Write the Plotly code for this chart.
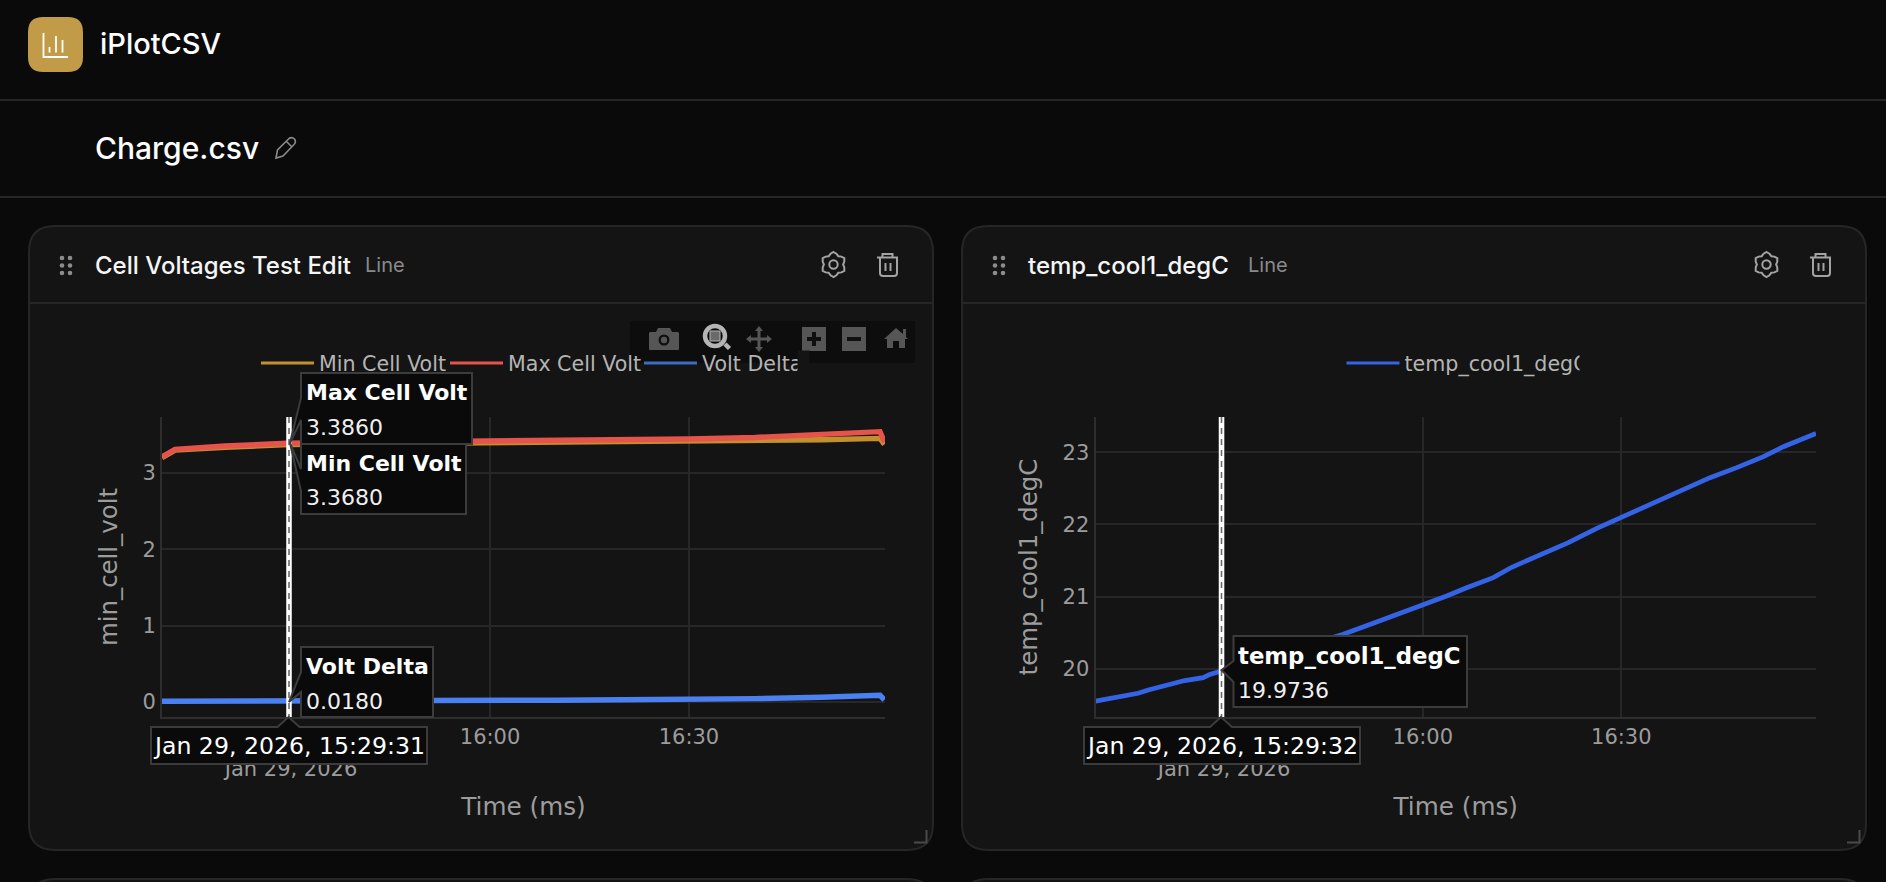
"""Recreate the iPlotCSV dashboard screenshot (two line-chart cards)."""

import math
import re

import plotly.graph_objects as go

W, H = 1886, 882

# ── Data ────────────────────────────────────────────────────
VOLT_TIME = [
    "2026-01-29 15:10:30", "2026-01-29 15:12:28", "2026-01-29 15:20:00", "2026-01-29 15:29:31",
    "2026-01-29 15:40:00", "2026-01-29 15:50:00", "2026-01-29 16:00:00", "2026-01-29 16:10:00",
    "2026-01-29 16:20:00", "2026-01-29 16:30:00", "2026-01-29 16:40:00", "2026-01-29 16:50:00",
    "2026-01-29 16:58:50", "2026-01-29 16:59:30",
]
MIN_CELL_VOLT = [3.197, 3.296, 3.335, 3.368, 3.380, 3.388, 3.392, 3.398, 3.402, 3.408, 3.418, 3.432, 3.450, 3.372]
MAX_CELL_VOLT = [3.207, 3.306, 3.350, 3.386, 3.398, 3.405, 3.412, 3.422, 3.432, 3.443, 3.462, 3.495, 3.538, 3.400]
VOLT_DELTA = [0.010, 0.010, 0.015, 0.018, 0.018, 0.017, 0.020, 0.024, 0.030, 0.035, 0.044, 0.063, 0.088, 0.028]

TEMP_TIME = [
    "2026-01-29 15:10:31", "2026-01-29 15:13:56", "2026-01-29 15:16:58", "2026-01-29 15:18:30",
    "2026-01-29 15:21:30", "2026-01-29 15:24:00", "2026-01-29 15:26:48", "2026-01-29 15:27:48",
    "2026-01-29 15:29:32", "2026-01-29 15:38:00", "2026-01-29 15:47:58", "2026-01-29 15:52:30",
    "2026-01-29 15:58:03", "2026-01-29 16:00:03", "2026-01-29 16:03:36", "2026-01-29 16:06:37",
    "2026-01-29 16:10:39", "2026-01-29 16:13:26", "2026-01-29 16:17:12", "2026-01-29 16:22:00",
    "2026-01-29 16:26:18", "2026-01-29 16:30:04", "2026-01-29 16:34:20", "2026-01-29 16:38:23",
    "2026-01-29 16:43:25", "2026-01-29 16:47:27", "2026-01-29 16:51:30", "2026-01-29 16:54:30",
    "2026-01-29 16:59:26",
]
TEMP_COOL1 = [
    19.555, 19.61, 19.665, 19.711, 19.776, 19.84, 19.881, 19.925, 19.974, 20.20, 20.481, 20.633, 20.817,
    20.90, 21.011, 21.125, 21.265, 21.408, 21.555, 21.748, 21.947, 22.10, 22.27, 22.432, 22.647, 22.786,
    22.938, 23.076, 23.26,
]

COLORS = ["#c48f2f", "#e5534b", "#4a80f2", "#3463e5"]
LEGEND_BLUE = "#3a6cc4"
BG = "#0a0a0a"
CARD = "#141414"
EDGE = "#262626"
GRID = "#272727"
MUTED = "#9c9c9c"
TIP_EDGE = "#3c3c3c"
PLOT_FONT = "DejaVu Sans"
UI_FONT = "Inter"


def fx(x):
    return x / W


def fy(y):
    return 1 - y / H


def scaled(path):
    # pixel path -> paper path, numbers come in x,y pairs
    nums = iter(range(10000))

    def conv(m):
        v = float(m.group())
        return f"{fx(v):.5f}" if next(nums) % 2 == 0 else f"{fy(v):.5f}"

    return re.sub(r"-?\d+\.?\d*", conv, path)


def round_rect(x0, y0, x1, y1, r):
    return (
        f"M{x0 + r},{y0} L{x1 - r},{y0} Q{x1},{y0} {x1},{y0 + r} L{x1},{y1 - r} Q{x1},{y1} {x1 - r},{y1} "
        f"L{x0 + r},{y1} Q{x0},{y1} {x0},{y1 - r} L{x0},{y0 + r} Q{x0},{y0} {x0 + r},{y0} Z"
    )


shapes = []
annotations = []


def path(d, fill=None, line=None, width=0, layer="above"):
    shapes.append(dict(
        type="path", xref="paper", yref="paper", path=scaled(d), layer=layer,
        fillcolor=fill or "rgba(0,0,0,0)",
        line=dict(color=line or "rgba(0,0,0,0)", width=width),
    ))


def circle(cx, cy, r, fill=None, line=None, width=0):
    shapes.append(dict(
        type="circle", xref="paper", yref="paper", x0=fx(cx - r), x1=fx(cx + r), y0=fy(cy + r), y1=fy(cy - r),
        fillcolor=fill or "rgba(0,0,0,0)", line=dict(color=line or "rgba(0,0,0,0)", width=width),
    ))


def text(x, y, s, size, color="#ffffff", font=UI_FONT, weight=400, anchor="left"):
    # annotations carry about 2px of padding on the left
    annotations.append(dict(
        x=fx(x - 2 if anchor == "left" else x), y=fy(y), xref="paper", yref="paper", text=s, showarrow=False,
        xanchor=anchor, yanchor="middle", font=dict(family=font, size=size, color=color, weight=weight),
    ))


def cover(x0, y0, x1, y1):
    # hides the clipped end of a legend label
    annotations.append(dict(
        x=fx(x0), y=fy(y0), xref="paper", yref="paper", text=" ", showarrow=False, xanchor="left", yanchor="top",
        width=x1 - x0, height=y1 - y0, bgcolor=CARD, borderpad=0, font=dict(size=10),
    ))


def tooltip(box, tip, title, value, title_size=22):
    # title / value are (label, text y, y where the pointer leaves the box)
    x0, y0, x1, y1 = box
    px_, py_ = tip
    path(f"M{x0},{y0} L{x1},{y0} L{x1},{y1} L{x0},{y1} L{x0},{value[2]} L{px_},{py_} L{x0},{title[2]} Z", BG, TIP_EDGE, 2)
    text(x0 + 4.5, title[1], title[0], title_size, font=PLOT_FONT, weight=700)
    text(x0 + 4.5, value[1], value[0], 22, "#f0f0f0", font=PLOT_FONT)


def date_tip(x0, x1, cx, label):
    y0, y1 = 727, 764
    path(f"M{x0},{y0} L{cx - 11},{y0} L{cx},717 L{cx + 11},{y0} L{x1},{y0} L{x1},{y1} L{x0},{y1} Z", BG, TIP_EDGE, 2)
    text((x0 + x1) / 2, 746, label, 23.6, font=PLOT_FONT, anchor="center")


def crosshair(x):
    path(f"M{x},417 L{x},717", line="#ffffff", width=5.5)
    shapes.append(dict(
        type="line", xref="paper", yref="paper", x0=fx(x), x1=fx(x), y0=fy(417), y1=fy(717),
        line=dict(color="#6a6a6a", width=1.6, dash="6px,5px"),
    ))


def date_header(cx):
    # second tick line sits under the date tooltip, so it has to go in the shape layer
    shapes.append(dict(
        type="rect", xref="paper", yref="paper", x0=fx(cx - 90), x1=fx(cx + 90), y0=fy(779), y1=fy(755),
        line=dict(width=0), fillcolor="rgba(0,0,0,0)",
        label=dict(text="Jan 29, 2026", font=dict(family=PLOT_FONT, size=21, color=MUTED), textposition="middle center"),
    ))


def card(x0, title, title_x_end):
    x1 = x0 + 904
    path(round_rect(x0, 226, x1, 850, 26), CARD, EDGE, 2, layer="below")
    path(f"M{x0},303 L{x1},303", line=EDGE, width=2, layer="below")
    # next row of cards, only the top edge is on screen
    path(round_rect(x0, 879, x1, 1000, 26), CARD, EDGE, 2, layer="below")
    dx = x0 - 29
    for cx in (62, 70):
        for cy in (258, 265.5, 273):
            circle(cx + dx, cy, 2.3, fill="#8c8c8c")
    text(95 + dx, 265, title, 24, "#f5f5f5", weight=500)
    text(title_x_end + 15, 265.5, "Line", 20, "#8a8a8a")
    # gear
    gcx, gcy = 833.5 + dx, 264.5
    pts = []
    for i in range(24):
        ang = math.radians(i * 15 - 90)
        rad = 12.5 if i % 4 == 0 else (11.2 if i % 4 in (1, 3) else 9.6)
        pts.append(f"{gcx + rad * math.cos(ang):.1f},{gcy + rad * math.sin(ang):.1f}")
    path("M" + " L".join(pts) + " Z", line="#a3a3a3", width=2)
    circle(gcx, gcy, 4.2, line="#a3a3a3", width=2)
    # trash
    t = dx
    path(f"M{877 + t},257.5 L{898 + t},257.5", line="#a3a3a3", width=2)
    path(f"M{882.5 + t},257 L{882.5 + t},254 L{892.5 + t},254 L{892.5 + t},257", line="#a3a3a3", width=2)
    path(f"M{880 + t},258 L{880 + t},273 Q{880 + t},276 {883 + t},276 L{894 + t},276 Q{897 + t},276 {897 + t},273 L{897 + t},258",
         line="#a3a3a3", width=2)
    path(f"M{885.5 + t},263 L{885.5 + t},271", line="#a3a3a3", width=2)
    path(f"M{890.5 + t},263 L{890.5 + t},271", line="#a3a3a3", width=2)
    # resize handle
    path(f"M{914 + t},842.5 L{926.5 + t},842.5 L{926.5 + t},830", line="#4a4a4a", width=2)


# ── Page chrome ─────────────────────────────────────────────
path(f"M0,100 L{W},100", line=EDGE, width=2, layer="below")
path(f"M0,197 L{W},197", line=EDGE, width=2, layer="below")
path(round_rect(28, 17, 83, 72, 15), "#c19b47")
path("M43.5,33 L43.5,57 L68,57", line="#ffffff", width=1.8)
path("M49.5,47 L49.5,52.5", line="#ffffff", width=1.8)
path("M56,36 L56,52.5", line="#ffffff", width=1.8)
path("M62.5,40 L62.5,52.5", line="#ffffff", width=1.8)
text(100, 44, "iPlotCSV", 29, weight=500)
text(95, 148, "Charge.csv", 30, weight=500)
path("M276,158 L277.5,150 L289,138.5 Q292,136.5 294.5,139 Q296.5,142 294,144.5 L283,156 Z M286,141 L292,147",
     line="#8a8a8a", width=1.6)

card(29, "Cell Voltages Test Edit", 350)
card(962, "temp_cool1_degC", 1233)

# modebar (drawn, since it only shows on hover)
path("M630,321 L915,321 L915,363 L630,363 Z", "rgba(8,8,8,0.55)")
ICON = "#565656"
path("M650,332 L656,332 L658,328 L670,328 L672,332 L678,332 Q679,332 679,334 L679,349 Q679,350 678,350 L650,350 Q649,350 649,349 L649,334 Q649,332 650,332 Z", ICON)
circle(664, 340, 5.5, fill="#0f0f0f")
circle(664, 340, 3.2, fill=ICON)
path("M725,344 L729.5,348.5", line="#b5b5b5", width=4.5)
circle(715, 336, 10, line="#b5b5b5", width=4.5)
path("M710,331 L720,331 L720,341 L710,341 Z", "#6a6a6a", "#b5b5b5", 1)
path("M759,326 L763,331 L760.5,331 L760.5,337.5 L767,337.5 L767,335 L772,339 L767,343 L767,340.5 L760.5,340.5 L760.5,347 L763,347 L759,352 L755,347 L757.5,347 L757.5,340.5 L751,340.5 L751,343 L746,339 L751,335 L751,337.5 L757.5,337.5 L757.5,331 L755,331 Z", ICON)
path("M802,327 L826,327 L826,351 L802,351 Z", ICON)
path("M812,332 L816,332 L816,337 L821,337 L821,341 L816,341 L816,346 L812,346 L812,341 L807,341 L807,337 L812,337 Z", "#0f0f0f")
path("M842,327 L866,327 L866,351 L842,351 Z", ICON)
path("M847,337 L861,337 L861,341 L847,341 Z", "#0f0f0f")
path("M884,339 L896,328 L903,334 L903,329 L906,329 L906,337 L908,339 L905,339 L905,348 L899,348 L899,341 L893,341 L893,348 L887,348 L887,339 Z", ICON)

# hover readouts, in the order the page stacks them
date_header(291)
crosshair(289)
date_tip(151, 427, 288.5, "Jan 29, 2026, 15:29:31")
tooltip((301, 444, 466, 514), (290, 443), ("Min Cell Volt", 464, 469), ("3.3680", 498, 491))
tooltip((301, 373, 472, 444), (290, 443), ("Max Cell Volt", 393, 398), ("3.3860", 427, 420))
tooltip((301, 647, 433, 717), (289, 702), ("Volt Delta", 666, 672), ("0.0180", 701, 692))

date_header(1224)
crosshair(1221.5)
date_tip(1084, 1360, 1221, "Jan 29, 2026, 15:29:32")
tooltip((1233.5, 636, 1467, 707), (1221.5, 670), ("temp_cool1_degC", 656, 661), ("19.9736", 690, 682), title_size=22.8)

cover(797, 350, 808, 378)
cover(1579, 350, 1610, 378)

# ── Figure ──────────────────────────────────────────────────
fig = go.Figure()
fig.add_trace(go.Scatter(x=VOLT_TIME, y=MIN_CELL_VOLT, mode="lines", showlegend=False,
                         line=dict(color=COLORS[0], width=5.4)))
fig.add_trace(go.Scatter(x=VOLT_TIME, y=MAX_CELL_VOLT, mode="lines", showlegend=False,
                         line=dict(color=COLORS[1], width=5.4)))
fig.add_trace(go.Scatter(x=VOLT_TIME, y=VOLT_DELTA, mode="lines", showlegend=False,
                         line=dict(color=COLORS[2], width=5.4)))
fig.add_trace(go.Scatter(x=TEMP_TIME, y=TEMP_COOL1, mode="lines", xaxis="x2", yaxis="y2", showlegend=False,
                         line=dict(color=COLORS[3], width=4.7)))

# legend keys are thinner than the lines, so each gets an empty trace of its own
for name, color, legend_id in [
    ("Min Cell Volt", COLORS[0], "legend"),
    ("Max Cell Volt", COLORS[1], "legend2"),
    ("Volt Delta", LEGEND_BLUE, "legend3"),
    ("temp_cool1_degC", COLORS[3], "legend4"),
]:
    fig.add_trace(go.Scatter(x=[None], y=[None], name=name, mode="lines",
                             line=dict(color=color, width=3), legend=legend_id))


def legend_at(x):
    return dict(
        x=fx(x), y=fy(363), xanchor="left", yanchor="middle", orientation="h", itemwidth=53,
        bgcolor="rgba(0,0,0,0)", font=dict(family=PLOT_FONT, size=20.6, color="#b4b4b4"),
    )


def x_axis(x0, x1, rng, anchor):
    return dict(
        domain=[fx(x0), fx(x1)], range=rng, anchor=anchor, type="date", dtick=1800000,
        tick0="2026-01-29 15:00:00", tickformat="%H:%M", gridcolor=GRID, gridwidth=1.5,
        showline=True, linecolor="#2e2e2e", linewidth=2, ticks="",
        tickfont=dict(family=PLOT_FONT, size=21, color=MUTED), automargin=False,
        title=dict(text="Time (ms)", standoff=50, font=dict(family=PLOT_FONT, size=24.7, color=MUTED)),
        zeroline=False,
    )


def y_axis(rng, anchor, dtick, label):
    return dict(
        domain=[fy(717), fy(417)], range=rng, anchor=anchor, dtick=dtick, gridcolor=GRID, gridwidth=1.5,
        showline=True, linecolor="#2e2e2e", linewidth=2, zeroline=False, ticks="",
        tickfont=dict(family=PLOT_FONT, size=21, color=MUTED), automargin=False,
        title=dict(text=label, standoff=18, font=dict(family=PLOT_FONT, size=24.4, color=MUTED)),
    )


fig.update_layout(
    width=W, height=H, margin=dict(l=0, r=0, t=0, b=0), paper_bgcolor=BG, plot_bgcolor=CARD,
    hovermode=False, showlegend=True, shapes=shapes, annotations=annotations,
    legend=legend_at(256), legend2=legend_at(445), legend3=legend_at(639), legend4=legend_at(1341.5),
    xaxis=x_axis(162, 885, ["2026-01-29 15:10:30", "2026-01-29 16:59:35"], "y"),
    yaxis=y_axis([-0.196, 3.73], "x", 1, "min_cell_volt"),
    xaxis2=x_axis(1095.5, 1816, ["2026-01-29 15:10:31", "2026-01-29 16:59:26"], "y2"),
    yaxis2=y_axis([19.336, 23.487], "x2", 1, "temp_cool1_degC"),
)

fig.write_html(
    "out.html",
    config=dict(displayModeBar=False),
    post_script="document.body.style.margin='0';document.body.style.background='#0a0a0a';document.body.style.overflow='hidden';",
)
